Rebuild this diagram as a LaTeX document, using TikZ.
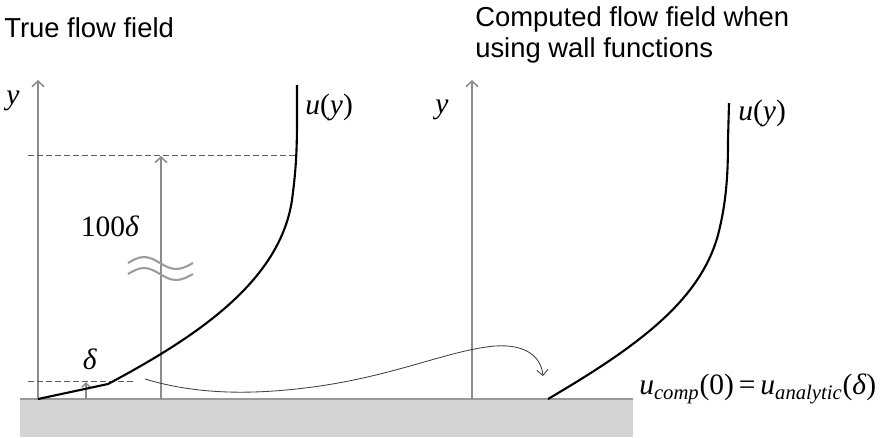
\documentclass[tikz,border=0pt]{standalone}
\usepackage{fontspec}
\setmainfont{Liberation Serif}
\setsansfont{Liberation Sans}
\usetikzlibrary{arrows.meta, positioning}
\definecolor{axisgray}{HTML}{8C8C8C}
\definecolor{dashgray}{HTML}{5C5C5C}
\definecolor{wallgray}{HTML}{D4D4D4}
\definecolor{walledge}{HTML}{9A9A9A}
\definecolor{wavegray}{HTML}{9C9C9C}

\begin{document}
\begin{tikzpicture}[x=0.025cm, y=-0.025cm,
  axisline/.style={draw=axisgray, line width=1.1pt, -{Straight Barb[length=4pt, width=8.5pt]}},
  profile/.style={draw=black, line width=1.5pt},
  level/.style={draw=dashgray, line width=0.6pt, dash pattern=on 4.2pt off 2.2pt},
  title/.style={font=\sffamily\fontsize{19.5}{21.5}\selectfont, inner sep=0pt, align=left},
  lbl/.style={font=\fontsize{21}{24}\selectfont, inner sep=0pt}]
\useasboundingbox (0,0) rectangle (891,437);

% wall
\fill[wallgray] (20,399) rectangle (633,437);
\draw[walledge, line width=1pt] (20,399) -- (633,399);

% titles
\node[title, anchor=base west] (ttrue) at (4,37) {True flow field};
\node[title, anchor=base west] (tcomp) at (475,57) {Computed flow field when\\using wall functions};

% true flow field
\coordinate (ybase1) at (38,399);
\coordinate (ytop1) at (38,80);
\draw[axisline] (ybase1) -- (ytop1);
\node[lbl] (ylab1) at (13,101) {\textit{y}};

\draw[level] (28,155) -- (298,155);
\draw[level] (28,381) -- (133,381);

\coordinate (hbase) at (161,399);
\coordinate (htop) at (161,156);
\draw[axisline] (hbase) -- (htop);
\coordinate (dbase) at (86,399);
\coordinate (dtop) at (86,382);
\draw[axisline, -{Straight Barb[length=3pt, width=6pt]}] (dbase) -- (dtop);

\draw[wavegray, line width=1.5pt] (128,263) sin (144,257) cos (160,263) sin (176,269) cos (193,263);
\draw[wavegray, line width=1.5pt] (128,274) sin (144,268) cos (160,274) sin (176,280) cos (193,274);

\node[lbl] (hlab) at (110,226) {100\textit{δ}};
\node[lbl] (dlab) at (90,359) {\textit{δ}};

\draw[profile] (38,399) -- (108,384) .. controls (200,335) and (280,280) .. (292,200)
  .. controls (296,170) and (297,150) .. (297,120) -- (297,85);
\node[lbl, anchor=west] (ulab1) at (305,107) {\textit{u}(\textit{y})};

% computed flow field
\coordinate (ybase2) at (472,399);
\coordinate (ytop2) at (472,80);
\draw[axisline] (ybase2) -- (ytop2);
\node[lbl] (ylab2) at (442,110) {\textit{y}};

\draw[profile] (548,399) .. controls (640,345) and (700,300) .. (718,235)
  .. controls (727,200) and (728,170) .. (728,140) -- (729,103);
\node[lbl, anchor=west] (ulab2) at (738,113) {\textit{u}(\textit{y})};

\node[lbl, anchor=west] (eq) at (639,389) {\textit{u}\textsubscript{\textit{comp}}(0)\,=\,\textit{u}\textsubscript{\textit{analytic}}(\textit{δ})};

% transfer of the near-wall value
\coordinate (src) at (145,379);
\coordinate (dst) at (543,376);
\draw[draw=black!75, line width=0.6pt, -{Straight Barb[length=4pt, width=8pt]}]
  (src) .. controls (195,394) and (250,396) .. (320,386)
  .. controls (400,374) and (450,350) .. (495,346)
  .. controls (525,344) and (541,356) .. (dst);
\end{tikzpicture}
\end{document}
